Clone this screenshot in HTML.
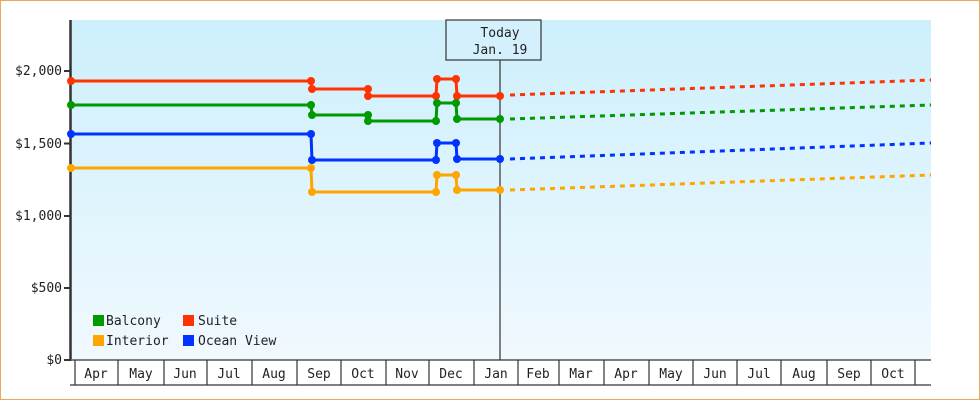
<!DOCTYPE html>
<html><head><meta charset="utf-8"><style>
html,body{margin:0;padding:0;background:#fff}
svg{display:block}
text{font-family:"DejaVu Sans Mono","Liberation Mono",monospace;font-size:13px;fill:#222}
</style></head><body>
<svg width="980" height="400" viewBox="0 0 980 400">
<defs><linearGradient id="bg" x1="0" y1="0" x2="0" y2="1"><stop offset="0" stop-color="#cdeffc"/><stop offset="1" stop-color="#f0f9fe"/></linearGradient></defs>
<rect x="0.5" y="0.5" width="979" height="399" fill="#fff" stroke="#e8a860"/>
<rect x="71" y="20" width="860" height="340" fill="url(#bg)"/>
<line x1="70.5" y1="20" x2="70.5" y2="361" stroke="#333" stroke-width="2.5"/>
<g stroke="#333" stroke-width="2">
<line x1="64" y1="71" x2="70" y2="71"/><line x1="64" y1="143.5" x2="70" y2="143.5"/><line x1="64" y1="216" x2="70" y2="216"/><line x1="64" y1="288" x2="70" y2="288"/><line x1="64" y1="360" x2="70" y2="360"/>
</g>
<g text-anchor="end">
<text x="62" y="75">$2,000</text><text x="62" y="148">$1,500</text><text x="62" y="220">$1,000</text><text x="62" y="292">$500</text><text x="62" y="364">$0</text>
</g>
<g stroke="#333" stroke-width="1.2" fill="none">
<line x1="70" y1="385" x2="931" y2="385"/>
<line x1="72" y1="360" x2="931" y2="360"/>
<path d="M75 360V385M118 360V385M164 360V385M207 360V385M252 360V385M297 360V385M341 360V385M386 360V385M429 360V385M474 360V385M518 360V385M559 360V385M604 360V385M649 360V385M693 360V385M737 360V385M781 360V385M827 360V385M871 360V385M915 360V385"/>
</g>
<g text-anchor="middle">
<text x="96" y="378">Apr</text><text x="141" y="378">May</text><text x="185" y="378">Jun</text><text x="229" y="378">Jul</text><text x="274" y="378">Aug</text><text x="319" y="378">Sep</text><text x="363" y="378">Oct</text><text x="407" y="378">Nov</text><text x="451" y="378">Dec</text><text x="496" y="378">Jan</text><text x="538" y="378">Feb</text><text x="581" y="378">Mar</text><text x="626" y="378">Apr</text><text x="671" y="378">May</text><text x="715" y="378">Jun</text><text x="759" y="378">Jul</text><text x="804" y="378">Aug</text><text x="849" y="378">Sep</text><text x="893" y="378">Oct</text>
</g>
<line x1="500" y1="60" x2="500" y2="360" stroke="#333" stroke-width="1.2"/>
<rect x="446" y="20" width="95" height="40" fill="#d3f0fc" stroke="#333" stroke-width="1.2"/>
<text x="500" y="37" text-anchor="middle">Today</text>
<text x="500" y="54" text-anchor="middle">Jan. 19</text>
<g fill="none" stroke-width="3">
<path stroke="#ff3300" d="M71 81H311L312 89H368V96H436L437 79H456L457 96H500"/>
<path stroke="#009900" d="M71 105H311L312 115H368V121H436L437 103H456L457 119H500"/>
<path stroke="#0033ff" d="M71 134H311L312 160H436L437 143H456L457 159H500"/>
<path stroke="#ffa500" d="M71 168H311L312 192H436L437 175H456L457 190H500"/>
<g stroke-dasharray="5 5">
<path stroke="#ff3300" d="M510 95L931 80"/>
<path stroke="#009900" d="M510 119L931 105"/>
<path stroke="#0033ff" d="M510 159L931 143"/>
<path stroke="#ffa500" d="M510 190L931 175"/>
</g>
</g>
<g fill="#ff3300"><circle cx="71" cy="81" r="4"/><circle cx="311" cy="81" r="4"/><circle cx="312" cy="89" r="4"/><circle cx="368" cy="89" r="4"/><circle cx="368" cy="96" r="4"/><circle cx="436" cy="96" r="4"/><circle cx="437" cy="79" r="4"/><circle cx="456" cy="79" r="4"/><circle cx="457" cy="96" r="4"/><circle cx="500" cy="96" r="4"/></g>
<g fill="#009900"><circle cx="71" cy="105" r="4"/><circle cx="311" cy="105" r="4"/><circle cx="312" cy="115" r="4"/><circle cx="368" cy="115" r="4"/><circle cx="368" cy="121" r="4"/><circle cx="436" cy="121" r="4"/><circle cx="437" cy="103" r="4"/><circle cx="456" cy="103" r="4"/><circle cx="457" cy="119" r="4"/><circle cx="500" cy="119" r="4"/></g>
<g fill="#0033ff"><circle cx="71" cy="134" r="4"/><circle cx="311" cy="134" r="4"/><circle cx="312" cy="160" r="4"/><circle cx="436" cy="160" r="4"/><circle cx="437" cy="143" r="4"/><circle cx="456" cy="143" r="4"/><circle cx="457" cy="159" r="4"/><circle cx="500" cy="159" r="4"/></g>
<g fill="#ffa500"><circle cx="71" cy="168" r="4"/><circle cx="311" cy="168" r="4"/><circle cx="312" cy="192" r="4"/><circle cx="436" cy="192" r="4"/><circle cx="437" cy="175" r="4"/><circle cx="456" cy="175" r="4"/><circle cx="457" cy="190" r="4"/><circle cx="500" cy="190" r="4"/></g>
<rect x="93" y="315" width="11" height="11" fill="#009900"/><text x="106" y="325">Balcony</text>
<rect x="183" y="315" width="11" height="11" fill="#ff3300"/><text x="198" y="325">Suite</text>
<rect x="93" y="335" width="11" height="11" fill="#ffa500"/><text x="106" y="345">Interior</text>
<rect x="183" y="335" width="11" height="11" fill="#0033ff"/><text x="198" y="345">Ocean View</text>
</svg>
</body></html>
